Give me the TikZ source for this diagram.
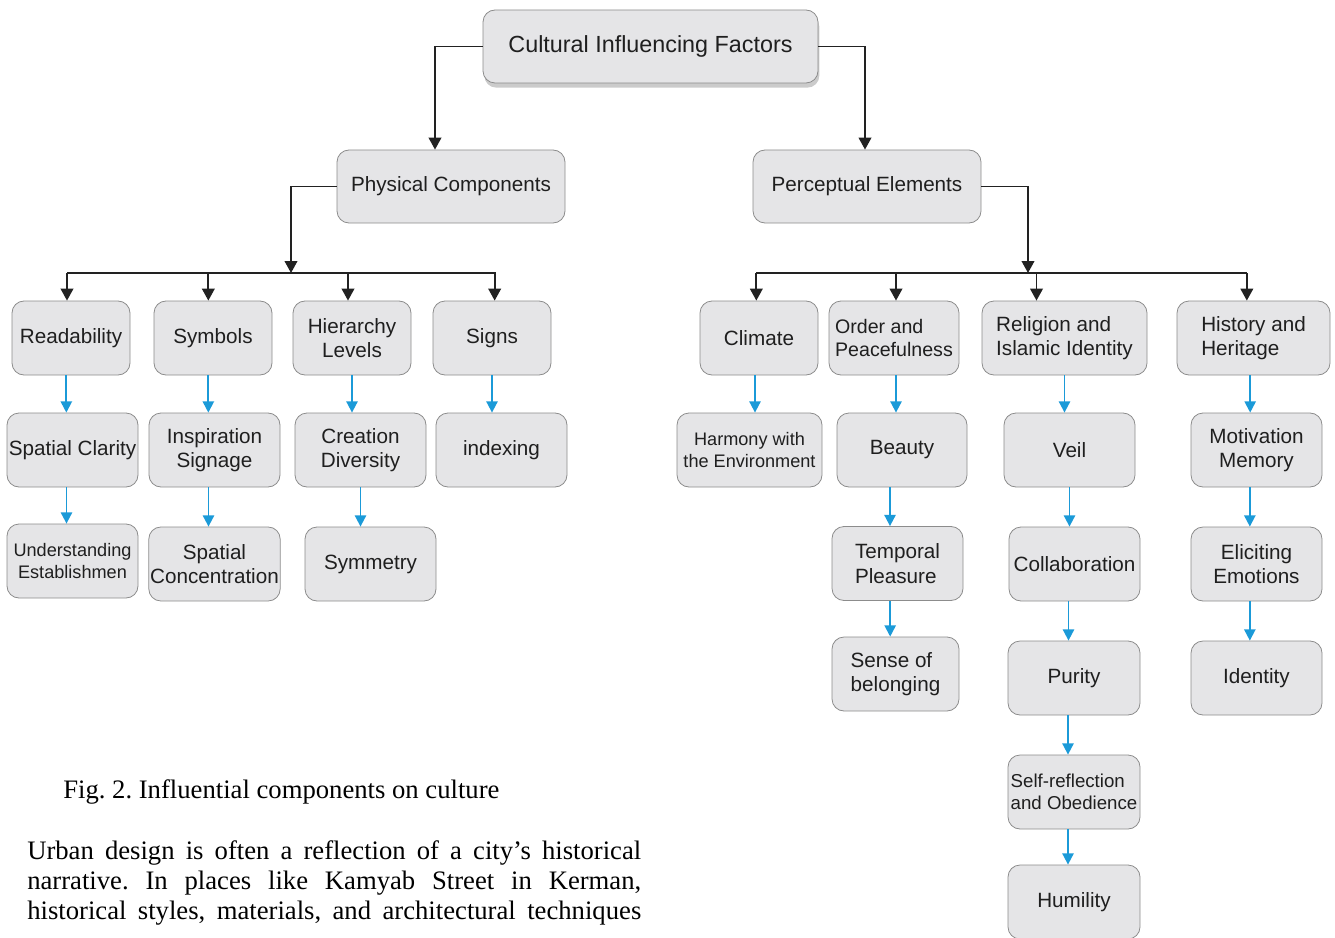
\documentclass[tikz,border=0pt]{standalone}
\usepackage{fontspec}
\setmainfont{Liberation Serif}
\newfontfamily\boxfont{Liberation Sans}
\usetikzlibrary{arrows.meta,shadows}
\definecolor{boxfill}{HTML}{E5E5E7}
\definecolor{boxline}{HTML}{8C8C8C}
\definecolor{arrowblue}{HTML}{1B9AD8}
\definecolor{linedark}{HTML}{222222}
\frenchspacing

\tikzset{
  box/.style={draw=boxline, fill=boxfill, rounded corners=9pt, line width=0.6pt,
    align=center, inner sep=1pt, minimum height=55.5pt, text=black!88,
    font=\boxfont\fontsize{15.5}{18.5}\selectfont},
  narrowbox/.style={box, minimum width=88.5pt},
  widebox/.style={box, minimum width=98.25pt},
  smalltext/.style={font=\boxfont\fontsize{13.6}{16}\selectfont},
  blk/.style={draw=linedark, line width=1.4pt, -{Triangle[length=9pt,width=9.5pt]}},
  blu/.style={draw=arrowblue, line width=1.4pt, -{Triangle[length=8.5pt,width=8.5pt]}},
  bodytext/.style={anchor=base west, inner sep=0pt, font=\fontsize{20}{22.5}\selectfont},
}

\begin{document}
\begin{tikzpicture}[x=0.75pt,y=0.75pt,yscale=-1,xscale=1]
\useasboundingbox (0,0) rectangle (1335,938);

% Top level
\node[box, minimum width=251.25pt, minimum height=54.75pt,
  font=\boxfont\fontsize{17.5}{20}\selectfont,
  drop shadow={shadow xshift=1pt, shadow yshift=-3.5pt, fill=black!45, opacity=0.45}] (cif) at (650.5,46.5) {\raisebox{-2pt}{Cultural Influencing Factors}};

% Second level
\node[box, minimum width=171pt, minimum height=54.75pt] (phys) at (451,186.5) {Physical Components};
\node[box, minimum width=171pt, minimum height=54.75pt] (perc) at (867,186.5) {Perceptual Elements};
\coordinate (pjoin) at (291,273);
\coordinate (qjoin) at (1028,273);

% Physical components
\node[narrowbox] (read) at (71,338) {Readability};
\node[narrowbox] (symb) at (213,338) {Symbols};
\node[narrowbox] (hier) at (352,338) {Hierarchy\\Levels};
\node[narrowbox] (signs) at (492,338) {Signs};
\node[widebox] (clarity) at (72.5,450) {Spatial Clarity};
\node[widebox] (inspir) at (214.5,450) {Inspiration\\Signage};
\node[widebox] (creat) at (360.5,450) {Creation\\Diversity};
\node[widebox] (index) at (501.5,450) {indexing};
\node[widebox, smalltext] (underst) at (72.5,561) {Understanding\\Establishmen};
\node[widebox] (spconc) at (214.5,564) {Spatial\\Concentration};
\node[widebox] (symm) at (370.5,564) {Symmetry};

% Perceptual elements
\node[narrowbox] (climate) at (759,338) {Climate};
\node[box, minimum width=97.5pt, align=left, font=\boxfont\fontsize{14.7}{17}\selectfont] (order) at (894,338) {Order and\\Peacefulness};
\node[box, minimum width=123.75pt, align=left] (relig) at (1064.5,338) {Religion and\\Islamic Identity};
\node[box, minimum width=114.75pt, align=left] (hist) at (1253.5,338) {History and\\Heritage};
\node[box, minimum width=108.75pt, smalltext] (harm) at (749.5,450) {Harmony with\\the Environment};
\node[box, minimum width=97.5pt] (beauty) at (902,450) {Beauty};
\node[widebox] (veil) at (1069.5,450) {Veil};
\node[widebox] (motiv) at (1256.5,450) {Motivation\\Memory};
\node[widebox, align=left] (temp) at (897.5,563.5) {Temporal\\Pleasure};
\node[widebox] (collab) at (1074.5,564) {Collaboration};
\node[widebox] (elicit) at (1256.5,564) {Eliciting\\Emotions};
\node[box, minimum width=95.25pt, align=left] (sense) at (895.5,674) {Sense of\\belonging};
\node[box, minimum width=99pt] (purity) at (1074,678) {Purity};
\node[widebox] (ident) at (1256.5,678) {Identity};
\node[box, minimum width=99pt, align=left, font=\boxfont\fontsize{14}{16.5}\selectfont] (selfref) at (1074,792) {Self-reflection\\and Obedience};
\node[box, minimum width=99pt] (humil) at (1074,902) {Humility};

% Black connectors
\draw[blk] (cif.west) -| ([xshift=-12pt]phys.north);
\draw[blk] (cif.east) -| ([xshift=-1.5pt]perc.north);
\draw[blk] (phys.west) -| (pjoin);
\draw[blk] (perc.east) -| (qjoin);
\draw[draw=linedark, line width=1.4pt] ([xshift=-3pt]read.north |- pjoin) -- ([xshift=3pt]signs.north |- pjoin);
\draw[draw=linedark, line width=1.4pt] ([xshift=-2pt]climate.north |- qjoin) -- ([xshift=-5pt]hist.north |- qjoin);
\foreach \n/\dx in {read/-3pt, symb/-3.5pt, hier/-3pt, signs/2pt, climate/-2pt, order/1.5pt, relig/-21pt, hist/-5pt}
  \draw[blk] ([xshift=\dx]\n.north |- pjoin) -- ([xshift=\dx]\n.north);

% Blue connectors
\draw[blu] ([xshift=-3.5pt]read.south) -- ([xshift=-3.5pt]read.south |- clarity.north);
\draw[blu] ([xshift=-4.5pt]clarity.south) -- ([xshift=-4.5pt]clarity.south |- underst.north);
\draw[blu] ([xshift=-3.5pt]symb.south) -- ([xshift=-3.5pt]symb.south |- inspir.north);
\draw[blu] ([xshift=-4.5pt]inspir.south) -- ([xshift=-4.5pt]inspir.south |- spconc.north);
\draw[blu] (hier.south) -- (hier.south |- creat.north);
\draw[blu] (creat.south) -- (creat.south |- symm.north);
\draw[blu] (signs.south) -- (signs.south |- index.north);
\draw[blu] ([xshift=-3pt]climate.south) -- ([xshift=-3pt]climate.south |- harm.north);
\draw[blu] ([xshift=1.5pt]order.south) -- ([xshift=1.5pt]order.south |- beauty.north);
\draw[blu] ([xshift=-9pt]beauty.south) -- ([xshift=-9pt]beauty.south |- temp.north);
\draw[blu] ([xshift=-5.5pt]temp.south) -- ([xshift=-5.5pt]temp.south |- sense.north);
\draw[blu] (relig.south) -- (relig.south |- veil.north);
\draw[blu] (veil.south) -- (veil.south |- collab.north);
\draw[blu] ([xshift=-4.5pt]collab.south) -- ([xshift=-4.5pt]collab.south |- purity.north);
\draw[blu] ([xshift=-4.5pt]purity.south) -- ([xshift=-4.5pt]purity.south |- selfref.north);
\draw[blu] ([xshift=-4.5pt]selfref.south) -- ([xshift=-4.5pt]selfref.south |- humil.north);
\draw[blu] ([xshift=-2.5pt]hist.south) -- ([xshift=-2.5pt]hist.south |- motiv.north);
\draw[blu] ([xshift=-5pt]motiv.south) -- ([xshift=-5pt]motiv.south |- elicit.north);
\draw[blu] ([xshift=-5pt]elicit.south) -- ([xshift=-5pt]elicit.south |- ident.north);

% Caption and text
\node[bodytext] (caption) at (63,798) {Fig. 2. Influential components on culture};
\node[bodytext] (line1) at (27,859) {\makebox[460.5pt][s]{Urban design is often a reflection of a city’s historical}};
\node[bodytext] (line2) at (27,889) {\makebox[460.5pt][s]{narrative. In places like Kamyab Street in Kerman,}};
\node[bodytext] (line3) at (27,919) {\makebox[460.5pt][s]{historical styles, materials, and architectural techniques}};
\end{tikzpicture}
\end{document}
